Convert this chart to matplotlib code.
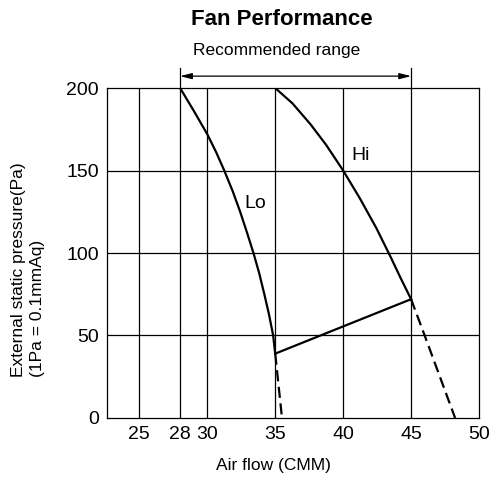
import matplotlib
matplotlib.use("Agg")
import matplotlib.pyplot as plt

plt.rcParams["font.family"] = ["Liberation Sans", "DejaVu Sans"]

# curve points (air flow CMM, pressure Pa)
lo_flow = [28.0, 29.02, 30.0, 30.66, 31.25, 31.87, 32.42, 32.92, 33.4, 33.83, 34.2, 34.55, 34.85, 35.0]
lo_pres = [200, 186, 172, 161, 150, 137.5, 125, 112.5, 100, 87.5, 75, 62.5, 50, 39]
hi_flow = [35.0, 36.27, 37.6, 38.75, 40.0, 41.24, 42.45, 43.5, 44.22, 45.0]
hi_pres = [200, 190.7, 178, 165.5, 150, 133, 115, 97.5, 85, 72]
lo_dash_flow = [35.0, 35.5]
lo_dash_pres = [39, 0]
hi_dash_flow = [45.0, 46.0, 48.24]
hi_dash_pres = [72, 50, 0]
link_flow = [35.0, 45.0]
link_pres = [39, 72]

x_ticks = [25, 28, 30, 35, 40, 45, 50]
y_ticks = [0, 50, 100, 150, 200]
range_lo, range_hi = 28, 45

fig = plt.figure(figsize=(4.91, 4.82), dpi=100)
ax = fig.add_axes([0.2179, 0.1328, 0.7577, 0.6846])

lw = 1.6
ax.plot(lo_flow, lo_pres, color="black", lw=lw, solid_joinstyle="round")
ax.plot(hi_flow, hi_pres, color="black", lw=lw, solid_joinstyle="round")
ax.plot(link_flow, link_pres, color="black", lw=lw)
ax.plot(lo_dash_flow, lo_dash_pres, color="black", lw=lw, dashes=(5, 2.5))
ax.plot(hi_dash_flow, hi_dash_pres, color="black", lw=lw, dashes=(5, 2.5))

for x in x_ticks[:-1]:
    ax.axvline(x, color="black", lw=0.9, zorder=0)
for y in y_ticks[1:-1]:
    ax.axhline(y, color="black", lw=0.9, zorder=0)

ax.set_xlim(22.62, 50)
ax.set_ylim(0, 200)
ax.set_xticks(x_ticks)
ax.set_yticks(y_ticks)
ax.tick_params(length=0, labelsize=14, pad=6)
for s in ax.spines.values():
    s.set_linewidth(0.9)

ax.text(33.5, 130, "Lo", fontsize=14, ha="center", va="center")
ax.text(41.3, 159, "Hi", fontsize=14, ha="center", va="center")

# recommended range marker above the axes
for x in (range_lo, range_hi):
    ax.plot([x, x], [1.0, 1.061], color="black", lw=0.9,
            transform=ax.get_xaxis_transform(), clip_on=False)
ax.annotate("", xy=(range_hi, 1.036), xytext=(range_lo, 1.036),
            xycoords=("data", "axes fraction"), textcoords=("data", "axes fraction"),
            arrowprops=dict(arrowstyle="<|-|>,head_length=0.7,head_width=0.18",
                            color="black", lw=0.9, shrinkA=0, shrinkB=0))

fig.text(0.574, 0.96, "Fan Performance", fontsize=16, fontweight="bold",
         ha="center", va="center")
fig.text(0.563, 0.896, "Recommended range", fontsize=12.5, ha="center", va="center")
fig.text(0.556, 0.035, "Air flow (CMM)", fontsize=12.5, ha="center", va="center")
fig.text(0.057, 0.218, "External static pressure(Pa)\n(1Pa = 0.1mmAq)", fontsize=12.5,
         rotation=90, ha="center", va="bottom", multialignment="left", linespacing=1.35)

fig.savefig("out.png", dpi=100)
